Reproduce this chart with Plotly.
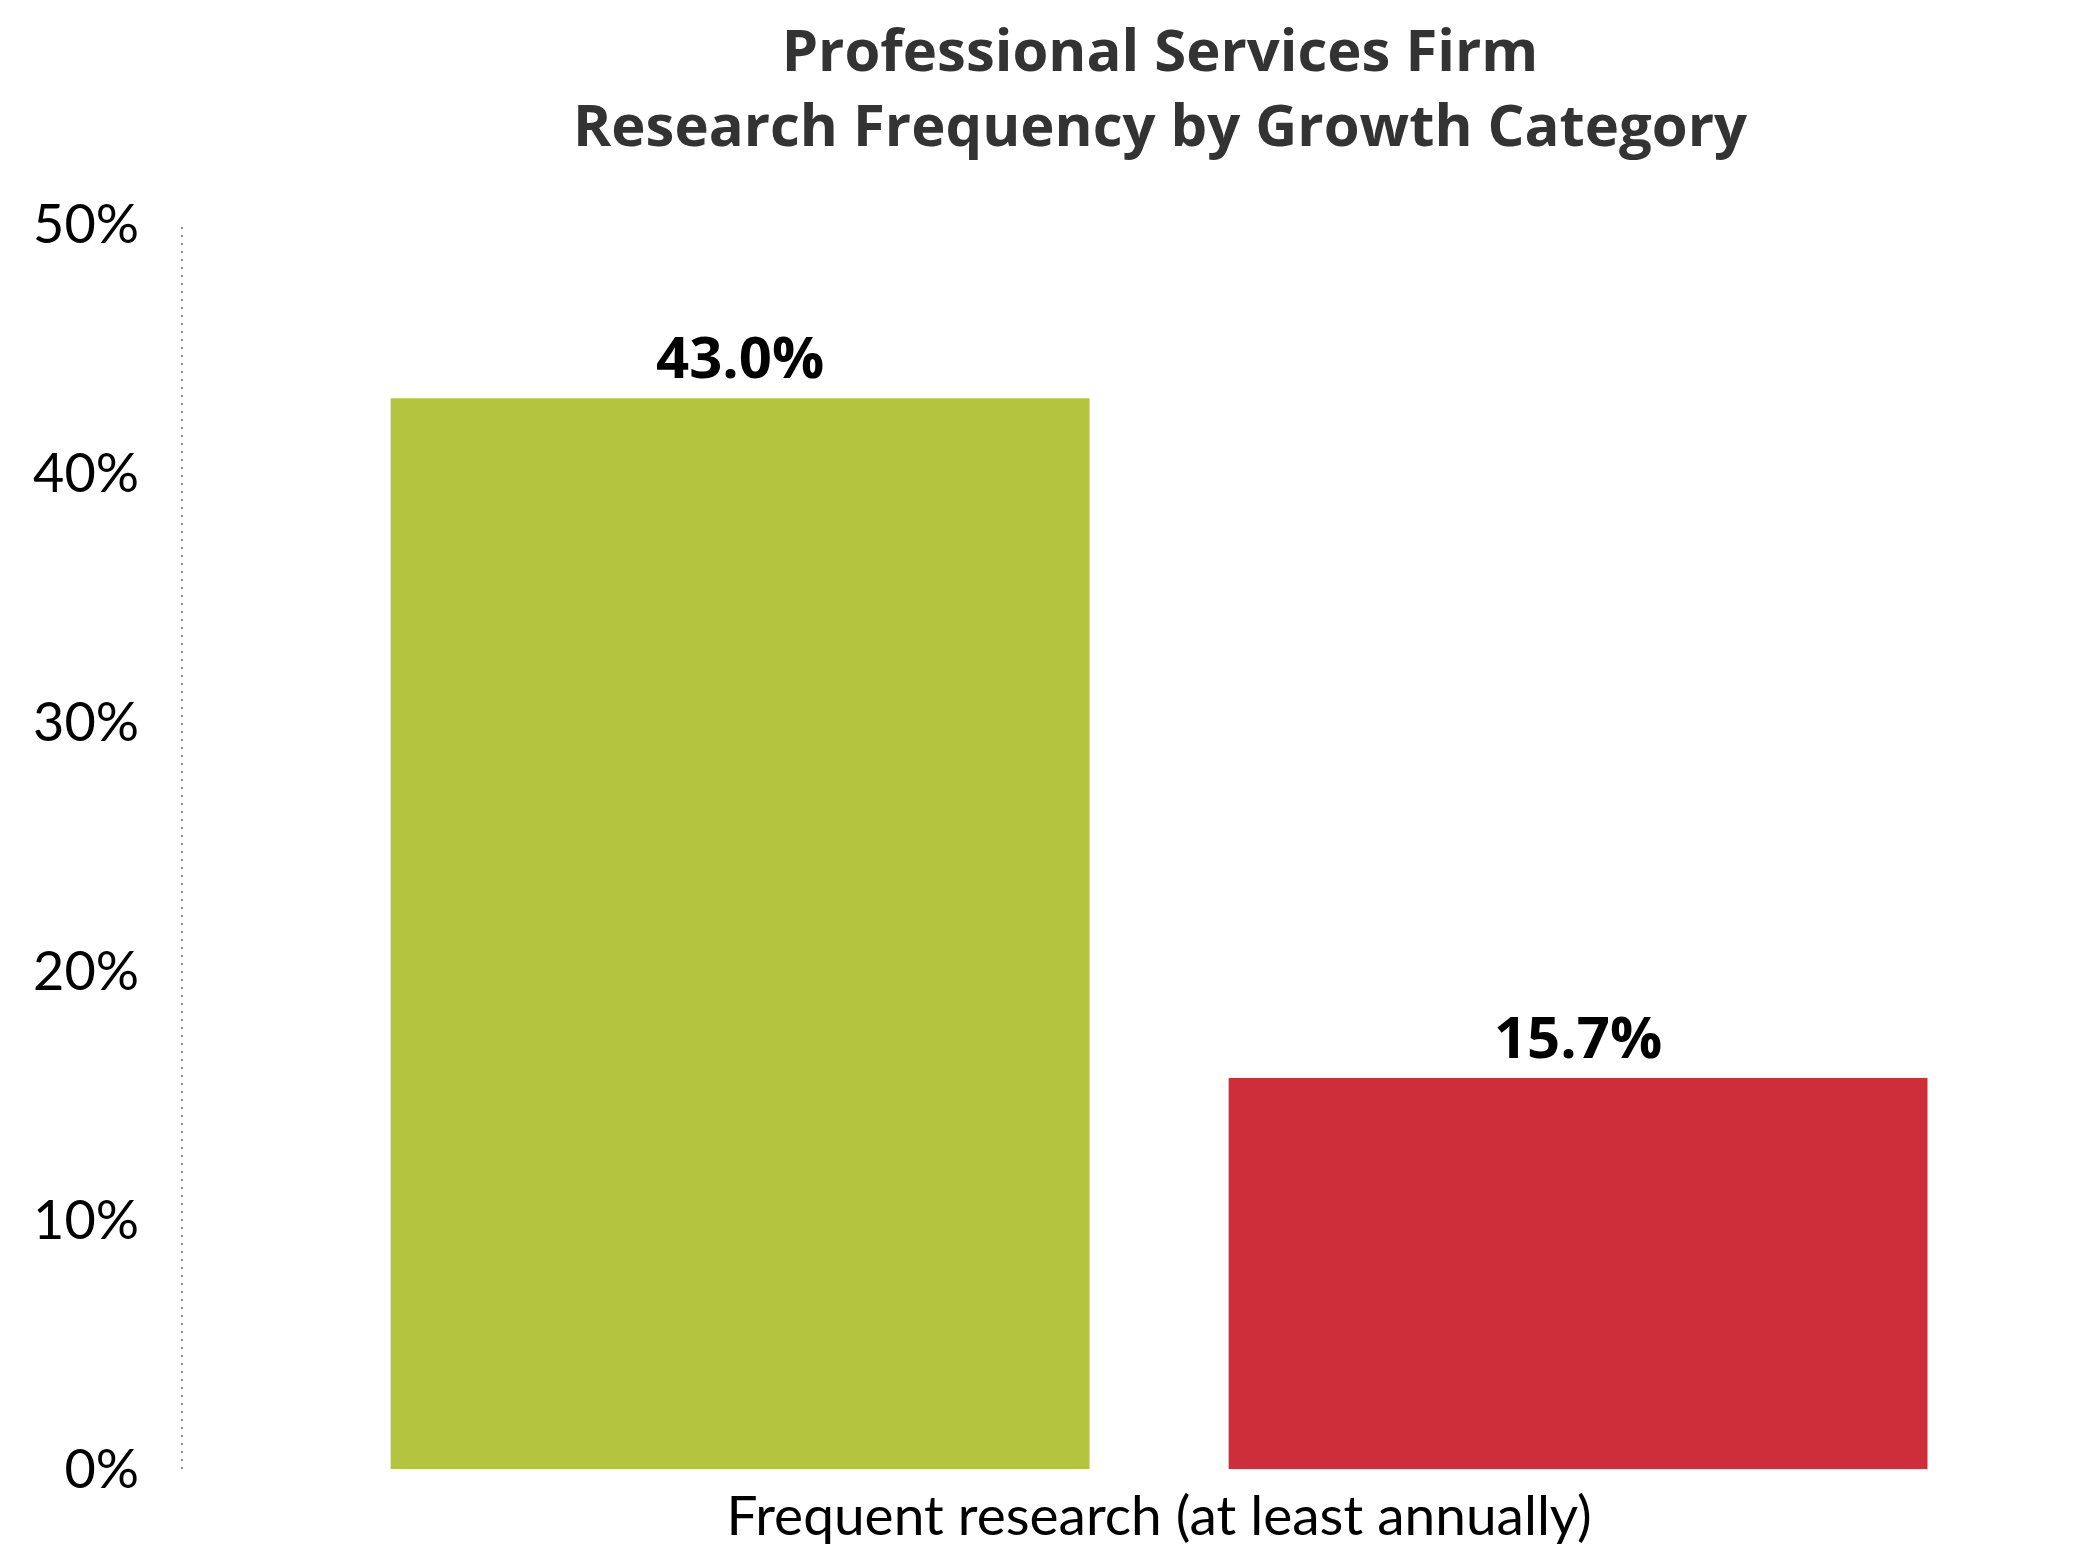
import plotly.graph_objects as go

# Data
category = ["Frequent research (at least annually)"]
series_names = ["High Growth", "No Growth"]
high_growth = [43.0]
no_growth = [15.7]
y_ticks = [0, 10, 20, 30, 40, 50]
y_tick_text = ["0%", "10%", "20%", "30%", "40%", "50%"]

GREEN = "#B4C43F"
RED = "#CE2E3A"

PLOT_TOP = 224
PLOT_BOTTOM = 81
PLOT_H = 1550 - PLOT_TOP - PLOT_BOTTOM

fig = go.Figure()
for name, vals, col in [(series_names[0], high_growth, GREEN),
                        (series_names[1], no_growth, RED)]:
    fig.add_trace(go.Bar(
        name=name,
        x=category,
        y=vals,
        marker=dict(color=col, line=dict(width=0)),
        text=[f"{v:.1f}%" for v in vals],
        textposition="outside",
        textfont=dict(family="Open Sans", size=58, color="#000000", weight=700),
        cliponaxis=False,
        hoverinfo="skip",
    ))

# dotted vertical axis line on the left edge of the plot
fig.add_shape(type="line", xref="paper", yref="y", x0=0, x1=0, y0=0, y1=50,
              line=dict(color="#8c8c8c", width=2, dash="2px,6px"))

# two-line chart title
fig.add_annotation(
    text="Professional Services Firm<br>Research Frequency by Growth Category",
    xref="paper", yref="paper",
    x=(1160 - 182) / (2094 - 182 - 14), y=1 + 138 / PLOT_H,
    xanchor="center", yanchor="middle", showarrow=False,
    font=dict(family="Open Sans", size=58, color="#333333", weight=700),
)

fig.update_layout(
    width=2094, height=1550,
    paper_bgcolor="white", plot_bgcolor="white",
    margin=dict(l=182, r=14, t=PLOT_TOP, b=PLOT_BOTTOM),
    barmode="group",
    bargap=0.117,
    bargroupgap=0.166,
    showlegend=False,
    xaxis=dict(
        range=[-0.5148, 0.4852],
        showgrid=False, zeroline=False, showline=False,
        tickfont=dict(family="Lato", size=55, color="#000000"),
        ticks="", ticklabelstandoff=10, automargin=False,
    ),
    yaxis=dict(
        range=[0, 50],
        tickvals=y_ticks, ticktext=y_tick_text,
        showgrid=False, zeroline=False, showline=False,
        tickfont=dict(family="Lato", size=54, color="#000000", weight=400),
        ticks="", ticklabelstandoff=42, automargin=False,
    ),
)

fig.write_html("out.html")
